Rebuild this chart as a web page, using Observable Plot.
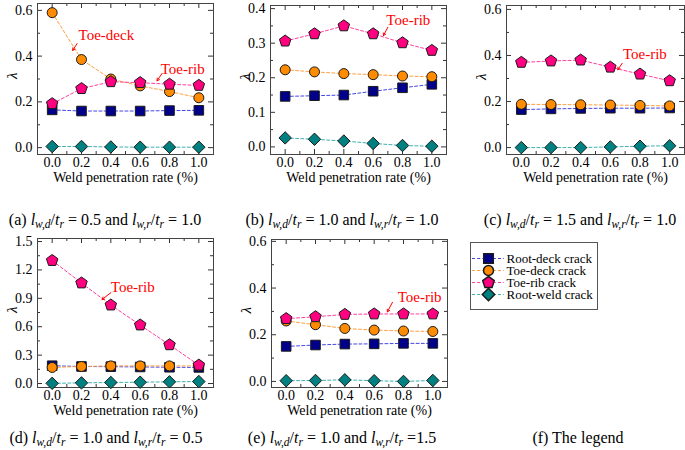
<!DOCTYPE html>
<html><head><meta charset="utf-8">
<script src="https://cdn.jsdelivr.net/npm/d3@7"></script>
<script src="https://cdn.jsdelivr.net/npm/@observablehq/plot@0.6"></script>
<style>
body{margin:0;background:#fff;}
#fig{position:relative;width:685px;height:450px;overflow:hidden;font-family:"Liberation Serif","Times New Roman",serif;background:#fff;}
#fig svg{position:absolute;overflow:visible;}
#fig svg, #fig svg text{font-family:"Liberation Serif","Times New Roman",serif !important;}
.cap{position:absolute;font-size:16px;white-space:nowrap;transform:translate(-50%,-50%);line-height:1;color:#000;}
.cap sub{font-size:0.72em;vertical-align:-0.3em;line-height:0;}
</style></head><body><div id="fig"></div>
<script>
const X = [0, 0.2, 0.4, 0.6, 0.8, 1.0];
const XMINOR = [0.1, 0.3, 0.5, 0.7, 0.9];
const SERIES = ["Root-deck crack", "Toe-deck crack", "Toe-rib crack", "Root-weld crack"];
const FILLS = ["#00008b", "#ff8c00", "#ff0080", "#008080"];
const LINES = ["#4646e6", "#ffa040", "#ff40a0", "#40b0b0"];
const XLABEL = "Weld penetration rate (%)";

// (a)
const a_rootDeck = [0.165, 0.160, 0.160, 0.160, 0.162, 0.163];
const a_toeDeck  = [0.590, 0.385, 0.300, 0.270, 0.245, 0.218];
const a_toeRib   = [0.192, 0.258, 0.288, 0.284, 0.277, 0.272];
const a_rootWeld = [0.005, 0.005, 0.003, 0.002, 0.002, 0.002];
// (b)
const b_rootDeck = [0.146, 0.148, 0.150, 0.161, 0.171, 0.181];
const b_toeDeck  = [0.223, 0.217, 0.212, 0.209, 0.205, 0.203];
const b_toeRib   = [0.306, 0.327, 0.350, 0.327, 0.301, 0.279];
const b_rootWeld = [0.026, 0.022, 0.017, 0.010, 0.004, 0.002];
// (c)
const c_rootDeck = [0.165, 0.168, 0.170, 0.171, 0.171, 0.172];
const c_toeDeck  = [0.188, 0.187, 0.186, 0.185, 0.183, 0.181];
const c_toeRib   = [0.370, 0.376, 0.380, 0.349, 0.319, 0.290];
const c_rootWeld = [0.000, 0.000, 0.000, 0.003, 0.006, 0.008];
// (d)
const d_rootDeck = [0.188, 0.180, 0.178, 0.175, 0.172, 0.170];
const d_toeDeck  = [0.170, 0.180, 0.186, 0.186, 0.186, 0.186];
const d_toeRib   = [1.299, 1.062, 0.829, 0.618, 0.409, 0.194];
const d_rootWeld = [0.002, 0.007, 0.011, 0.014, 0.018, 0.021];
// (e)
const e_rootDeck = [0.150, 0.156, 0.160, 0.161, 0.163, 0.163];
const e_toeDeck  = [0.259, 0.243, 0.227, 0.220, 0.216, 0.214];
const e_toeRib   = [0.269, 0.277, 0.287, 0.289, 0.289, 0.289];
const e_rootWeld = [0.003, 0.004, 0.007, 0.003, 0.000, 0.004];

// annotations (data coordinates)
const a_notes = [
  {label: "Toe-deck", tx: 0.18, ty: 0.49, x1: 0.17, y1: 0.455, x2: 0.14, y2: 0.425},
  {label: "Toe-rib",  tx: 0.74, ty: 0.345, x1: 0.75, y1: 0.325, x2: 0.715, y2: 0.292}
];
const b_notes = [{label: "Toe-rib", tx: 0.69, ty: 0.367, x1: 0.70, y1: 0.346, x2: 0.67, y2: 0.322}];
const c_notes = [{label: "Toe-rib", tx: 0.685, ty: 0.405, x1: 0.68, y1: 0.366, x2: 0.65, y2: 0.338}];
const d_notes = [{label: "Toe-rib", tx: 0.40, ty: 1.014, x1: 0.40, y1: 0.96, x2: 0.34, y2: 0.887}];
const e_notes = [{label: "Toe-rib", tx: 0.76, ty: 0.36, x1: 0.725, y1: 0.339, x2: 0.69, y2: 0.298}];

const pentagon = {draw(ctx, size) {
  const r = Math.sqrt(size / Math.PI) * 1.12;
  for (let i = 0; i < 5; i++) {
    const a = -Math.PI / 2 + i * 2 * Math.PI / 5;
    const px = r * Math.cos(a), py = r * Math.sin(a);
    if (i) ctx.lineTo(px, py); else ctx.moveTo(px, py);
  }
  ctx.closePath();
}};
const SYMBOLS = ["square", "circle", pentagon, "diamond2"];
const RADII = [5.4, 5, 5.4, 5.6];

const fig = document.getElementById("fig");
const fmt = d3.format(".1f");
const FONT = "Liberation Serif";

function seriesMarks(rows) {
  const m = [];
  SERIES.forEach((s, k) => m.push(Plot.line(rows.filter(r => r.s === k), {x: "x", y: "y", stroke: LINES[k], strokeWidth: 1, strokeDasharray: "3,2.2"})));
  SERIES.forEach((s, k) => m.push(Plot.dot(rows.filter(r => r.s === k), {x: "x", y: "y", symbol: SYMBOLS[k], r: RADII[k], fill: FILLS[k], stroke: "#1a1a1a", strokeWidth: 1})));
  return m;
}

function panel({frame: [x0, x1, y0, y1], ydomain, ymajor, yminor, data, notes}) {
  const mL = 36, mR = 3, mT = 4, mB = 40;
  const fw = x1 - x0, fh = y1 - y0;
  const rows = [];
  data.forEach((vals, s) => vals.forEach((v, i) => rows.push({x: X[i], y: v, s})));
  const tc = "#333";
  const marks = [
    Plot.tickX(X, {x: d => d, stroke: tc, insetTop: fh - 5}),
    Plot.tickX(X, {x: d => d, stroke: tc, insetBottom: fh - 5}),
    Plot.tickX(XMINOR, {x: d => d, stroke: tc, insetTop: fh - 3}),
    Plot.tickX(XMINOR, {x: d => d, stroke: tc, insetBottom: fh - 3}),
    Plot.tickY(ymajor, {y: d => d, stroke: tc, insetRight: fw - 5}),
    Plot.tickY(ymajor, {y: d => d, stroke: tc, insetLeft: fw - 5}),
    Plot.tickY(yminor, {y: d => d, stroke: tc, insetRight: fw - 3}),
    Plot.tickY(yminor, {y: d => d, stroke: tc, insetLeft: fw - 3}),
    Plot.frame({stroke: "#444", strokeWidth: 1}),
    ...seriesMarks(rows),
    Plot.arrow(notes, {x1: "x1", y1: "y1", x2: "x2", y2: "y2", stroke: "#ff0000", strokeWidth: 1, headLength: 4}),
    Plot.text(notes, {x: "tx", y: "ty", text: "label", fill: "#ff0000", textAnchor: "start", fontSize: 15, fontFamily: FONT}),
    Plot.axisX(X, {anchor: "bottom", tickSize: 0, tickPadding: 3, tickFormat: fmt, label: null, fontSize: 14, fontFamily: FONT}),
    Plot.axisY(ymajor, {anchor: "left", tickSize: 0, tickPadding: 5, tickFormat: fmt, label: null, fontSize: 14, fontFamily: FONT}),
    Plot.text(["λ"], {frameAnchor: "left", dx: -25, rotate: -90, fontStyle: "italic", fontSize: 15, fontFamily: FONT}),
    Plot.text([XLABEL], {frameAnchor: "bottom", dy: 23, lineAnchor: "middle", fontSize: 14, fontFamily: FONT})
  ];
  const p = Plot.plot({
    width: fw + mL + mR, height: fh + mT + mB,
    marginLeft: mL, marginRight: mR, marginTop: mT, marginBottom: mB,
    x: {domain: [-0.1, 1.1]}, y: {domain: ydomain},
    marks
  });
  p.style.left = (x0 - mL) + "px";
  p.style.top = (y0 - mT) + "px";
  fig.appendChild(p);
  return p;
}

panel({frame: [37, 213, 3, 154], ydomain: [-0.03, 0.63], ymajor: [0, 0.2, 0.4, 0.6], yminor: [0.1, 0.3, 0.5],
  data: [a_rootDeck, a_toeDeck, a_toeRib, a_rootWeld], notes: a_notes});
panel({frame: [270, 446, 5, 154], ydomain: [-0.022, 0.409], ymajor: [0, 0.1, 0.2, 0.3, 0.4], yminor: [0.05, 0.15, 0.25, 0.35],
  data: [b_rootDeck, b_toeDeck, b_toeRib, b_rootWeld], notes: b_notes});
panel({frame: [506, 684, 5, 154], ydomain: [-0.03, 0.617], ymajor: [0, 0.2, 0.4, 0.6], yminor: [0.1, 0.3, 0.5],
  data: [c_rootDeck, c_toeDeck, c_toeRib, c_rootWeld], notes: c_notes});
panel({frame: [37, 213, 238, 387], ydomain: [-0.042, 1.532], ymajor: [0, 0.3, 0.6, 0.9, 1.2, 1.5], yminor: [0.15, 0.45, 0.75, 1.05, 1.35],
  data: [d_rootDeck, d_toeDeck, d_toeRib, d_rootWeld], notes: d_notes});
panel({frame: [271, 447, 239, 387], ydomain: [-0.026, 0.608], ymajor: [0, 0.2, 0.4, 0.6], yminor: [0.1, 0.3, 0.5],
  data: [e_rootDeck, e_toeDeck, e_toeRib, e_rootWeld], notes: e_notes});

// legend (f)
{
  const lg = Plot.plot({
    width: 127, height: 67, margin: 0,
    x: {domain: [0, 1], range: [2, 34], axis: null},
    y: {type: "point", domain: SERIES, range: [8.5, 58.5], axis: null},
    marks: [
      Plot.frame({stroke: "#555"}),
      ...SERIES.map((s, k) => Plot.ruleY([s], {y: d => d, x1: 0, x2: 1, stroke: LINES[k], strokeDasharray: "3,2.2"})),
      ...SERIES.map((s, k) => Plot.dot([s], {x: 0.5, y: d => d, symbol: SYMBOLS[k], r: RADII[k], fill: FILLS[k], stroke: "#1a1a1a"})),
      Plot.text(SERIES, {x: 1, y: d => d, text: d => d, textAnchor: "start", dx: 2, fontSize: 13, fontFamily: FONT})
    ]
  });
  lg.style.left = "470px"; lg.style.top = "242px";
  fig.appendChild(lg);
}

// captions
const CAPS = [
  {cx: 105, cy: 220, html: "(a) <i>l</i><sub><i>w,d</i></sub>/<i>t</i><sub><i>r</i></sub> = 0.5 and <i>l</i><sub><i>w,r</i></sub>/<i>t</i><sub><i>r</i></sub> = 1.0"},
  {cx: 342, cy: 220, html: "(b) <i>l</i><sub><i>w,d</i></sub>/<i>t</i><sub><i>r</i></sub> = 1.0 and <i>l</i><sub><i>w,r</i></sub>/<i>t</i><sub><i>r</i></sub> = 1.0"},
  {cx: 580, cy: 220, html: "(c) <i>l</i><sub><i>w,d</i></sub>/<i>t</i><sub><i>r</i></sub> = 1.5 and <i>l</i><sub><i>w,r</i></sub>/<i>t</i><sub><i>r</i></sub> = 1.0"},
  {cx: 106, cy: 438, html: "(d) <i>l</i><sub><i>w,d</i></sub>/<i>t</i><sub><i>r</i></sub> = 1.0 and <i>l</i><sub><i>w,r</i></sub>/<i>t</i><sub><i>r</i></sub> = 0.5"},
  {cx: 342, cy: 438, html: "(e) <i>l</i><sub><i>w,d</i></sub>/<i>t</i><sub><i>r</i></sub> = 1.0 and <i>l</i><sub><i>w,r</i></sub>/<i>t</i><sub><i>r</i></sub> =1.5"},
  {cx: 578, cy: 438, html: "(f) The legend"}
];
CAPS.forEach(c => {
  const d = document.createElement("div");
  d.className = "cap";
  d.style.left = c.cx + "px"; d.style.top = c.cy + "px";
  d.innerHTML = c.html;
  fig.appendChild(d);
});
</script></body></html>
